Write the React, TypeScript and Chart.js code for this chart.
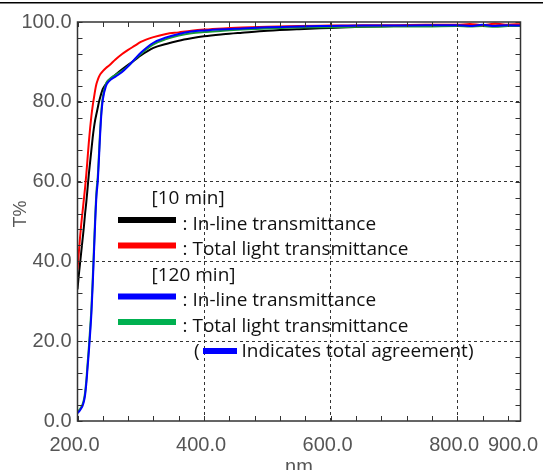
import React, { useEffect, useRef } from 'react';
import { Chart, registerables } from 'chart.js';

Chart.register(...registerables);

// Wavelength (nm)
const wavelengths = [200, 202, 204, 206, 208, 210, 212, 214, 216, 218, 220, 222, 224, 226, 228, 230, 232, 234, 236, 238, 240, 245, 250, 260, 270, 280, 290, 300, 320, 340, 360, 380, 400, 430, 460, 500, 550, 600, 650, 700, 750, 800, 820, 840, 860, 880, 900];

// 10 min: in-line transmittance (black)
const inline10 = [33, 36.5, 39.5, 42.5, 45.5, 48.5, 52, 55, 58.5, 62, 65, 68, 71, 73.5, 75.5, 77, 78.5, 80, 81.2, 82.3, 83.2, 84.5, 85.4, 86.8, 88.1, 89.3, 90.4, 91.6, 93.5, 94.5, 95.3, 95.9, 96.4, 96.9, 97.3, 97.8, 98.2, 98.5, 98.8, 99.0, 99.1, 99.1, 99.1, 99.2, 99.1, 99.2, 99.1];
// 10 min: total light transmittance (red)
const total10 = [38, 42, 46, 49.5, 52.5, 55.5, 58.5, 62, 66, 70, 73.5, 76.5, 79, 81, 83, 84.5, 85.5, 86.3, 86.9, 87.3, 87.7, 88.5, 89.1, 90.6, 91.9, 93.0, 94.0, 95.0, 96.2, 97.0, 97.4, 97.8, 98.1, 98.4, 98.6, 98.8, 99.0, 99.1, 99.2, 99.2, 99.3, 99.3, 99.5, 99.2, 99.6, 99.3, 99.5];
// 120 min: in-line transmittance (blue)
const inline120 = [2.0, 2.3, 2.7, 3.2, 3.8, 4.8, 6.5, 9.5, 13.5, 17.5, 22, 27, 34, 42, 50, 56.5, 60, 66, 72.5, 77.5, 80.5, 84, 85.2, 86.3, 87.4, 88.9, 90.6, 92.3, 94.8, 96.1, 97.0, 97.6, 97.9, 98.2, 98.4, 98.7, 98.9, 99.0, 99.1, 99.1, 99.2, 99.2, 99.0, 99.3, 99.0, 99.2, 99.1];
// 120 min: total light transmittance (green)
const total120 = [2.3, 2.6, 3.0, 3.5, 4.2, 5.3, 7.2, 10.3, 14.5, 18.6, 23.2, 28.4, 35.5, 43.4, 51.3, 57.6, 61.2, 67.2, 73.5, 78.3, 81.2, 84.5, 85.6, 86.7, 87.7, 89.0, 90.5, 92.0, 94.4, 95.7, 96.6, 97.2, 97.5, 97.8, 98.1, 98.4, 98.6, 98.7, 98.8, 98.9, 98.9, 99.0, 98.9, 99.0, 98.8, 99.0, 99.0];

const xTickValues = [200, 400, 600, 800, 900];
const xMin = 200;
const xMax = 900;
const xMinorStep = 40;
const yMin = 0;
const yMax = 100;
const yMajorStep = 20;
const yMinorStep = 4;

const xTitle = 'nm';
const yTitle = 'T%';

const legendRows = [
  { kind: 'header', text: '[10 min]', color: '' },
  { kind: 'item', text: ': In-line transmittance', color: '#000000' },
  { kind: 'item', text: ': Total light transmittance', color: '#ff0000' },
  { kind: 'header', text: '[120 min]', color: '' },
  { kind: 'item', text: ': In-line transmittance', color: '#0000ff' },
  { kind: 'item', text: ': Total light transmittance', color: '#00b050' },
  { kind: 'note', text: 'Indicates total agreement)', color: '#0000ff' },
];

const toPoints = (vals: number[]) => wavelengths.map((x, i) => ({ x, y: vals[i] }));

const decorPlugin = {
  id: 'decor',
  afterDraw(chart: any) {
    const { ctx, chartArea: a, scales } = chart;
    const xs = scales.x;
    const ys = scales.y;
    ctx.save();

    // top rule across the page
    ctx.fillStyle = '#000';
    ctx.fillRect(0, 2, chart.width, 1.5);

    // frame
    ctx.strokeStyle = '#333';
    ctx.lineWidth = 1.5;
    ctx.strokeRect(a.left, a.top, a.right - a.left, a.bottom - a.top);

    // inward ticks
    ctx.lineWidth = 1;
    ctx.beginPath();
    for (let v = xMin; v < xMax; v += xMinorStep) {
      const px = Math.round(xs.getPixelForValue(v)) + 0.5;
      ctx.moveTo(px, a.bottom);
      ctx.lineTo(px, a.bottom - 5);
      ctx.moveTo(px, a.top);
      ctx.lineTo(px, a.top + 5);
    }
    for (let v = yMin; v <= yMax; v += yMinorStep) {
      const py = Math.round(ys.getPixelForValue(v)) + 0.5;
      ctx.moveTo(a.left, py);
      ctx.lineTo(a.left + 5, py);
      ctx.moveTo(a.right, py);
      ctx.lineTo(a.right - 5, py);
    }
    ctx.stroke();

    // x tick labels
    ctx.font = '20px "Liberation Sans", Arial, sans-serif';
    ctx.fillStyle = '#555';
    ctx.textBaseline = 'alphabetic';
    ctx.textAlign = 'left';
    xTickValues.forEach((v) => {
      const label = v.toFixed(1);
      const w = ctx.measureText(label).width;
      const px = xs.getPixelForValue(v);
      let left = px - w / 2 - 3;
      if (left + w > chart.width - 5) left = chart.width - 5 - w;
      ctx.fillText(label, left, 450.5);
    });

    // x title
    ctx.textAlign = 'center';
    ctx.fillText(xTitle, (a.left + a.right) / 2, 473);

    // y title
    ctx.save();
    ctx.translate(21, 214);
    ctx.rotate(-Math.PI / 2);
    ctx.textAlign = 'center';
    ctx.textBaseline = 'middle';
    ctx.font = '18px "Liberation Sans Narrow", "Liberation Sans", Arial, sans-serif';
    ctx.fillText(yTitle, 0, 0);
    ctx.restore();

    // legend
    ctx.font = '19px "Open Sans", "Noto Sans", sans-serif';
    ctx.textAlign = 'left';
    ctx.textBaseline = 'alphabetic';
    const baseY = 204;
    const step = 25.5;
    legendRows.forEach((row, i) => {
      const by = baseY + step * i;
      ctx.fillStyle = '#111';
      if (row.kind === 'header') {
        ctx.fillText(row.text, 151.5, by);
      } else if (row.kind === 'item') {
        ctx.fillStyle = row.color;
        ctx.fillRect(118, by - 12.5, 58, 6);
        ctx.fillStyle = '#111';
        ctx.fillText(row.text, 182.5, by);
      } else {
        ctx.fillText('(', 194, by);
        ctx.fillStyle = row.color;
        ctx.fillRect(203, by - 9, 34, 6);
        ctx.fillStyle = '#111';
        ctx.fillText(row.text, 241.5, by);
      }
    });

    ctx.restore();
  },
};

export default function App() {
  const ref = useRef<HTMLCanvasElement | null>(null);

  useEffect(() => {
    document.body.style.margin = '0';
    const canvas = ref.current;
    if (!canvas) return;
    const gridColor = (ctx: any) => {
      const v = ctx.tick ? ctx.tick.value : null;
      if (v === xMin || v === xMax || v === yMin || v === yMax) return 'rgba(0,0,0,0)';
      return '#333';
    };
    const chart = new Chart(canvas, {
      type: 'line',
      data: {
        datasets: [
          { label: '120 min in-line', data: toPoints(inline120), borderColor: '#0000ff', borderWidth: 2, pointRadius: 0, cubicInterpolationMode: 'monotone' },
          { label: '10 min total', data: toPoints(total10), borderColor: '#ff0000', borderWidth: 2, pointRadius: 0, cubicInterpolationMode: 'monotone' },
          { label: '120 min total', data: toPoints(total120), borderColor: '#1a9a3a', borderWidth: 2, pointRadius: 0, cubicInterpolationMode: 'monotone' },
          { label: '10 min in-line', data: toPoints(inline10), borderColor: '#000000', borderWidth: 2, pointRadius: 0, cubicInterpolationMode: 'monotone' },
        ],
      },
      options: {
        animation: false,
        responsive: false,
        maintainAspectRatio: false,
        layout: { padding: { left: 0, right: 22.5, top: 22, bottom: 0 } },
        plugins: { legend: { display: false }, tooltip: { enabled: false } },
        scales: {
          x: {
            type: 'linear',
            min: xMin,
            max: xMax,
            afterBuildTicks: (scale: any) => {
              scale.ticks = xTickValues.map((v) => ({ value: v }));
            },
            afterFit: (scale: any) => {
              scale.height = 49;
            },
            ticks: { display: false },
            grid: { color: gridColor, lineWidth: 1, drawTicks: false },
            border: { display: false, dash: [3, 3] },
          },
          y: {
            type: 'linear',
            min: yMin,
            max: yMax,
            afterFit: (scale: any) => {
              scale.width = 77.5;
            },
            ticks: {
              stepSize: yMajorStep,
              padding: 6,
              color: '#555',
              font: { family: '"Liberation Sans", Arial, sans-serif', size: 20 },
              callback: (v: any) => Number(v).toFixed(1),
            },
            grid: { color: gridColor, lineWidth: 1, drawTicks: false },
            border: { display: false, dash: [3, 3] },
          },
        },
      },
      plugins: [decorPlugin],
    } as any);
    return () => chart.destroy();
  }, []);

  return (
    <div style={{ width: 543, height: 470, position: 'relative' }}>
      <canvas ref={ref} width={543} height={470} style={{ display: 'block', width: 543, height: 470 }} />
    </div>
  );
}
